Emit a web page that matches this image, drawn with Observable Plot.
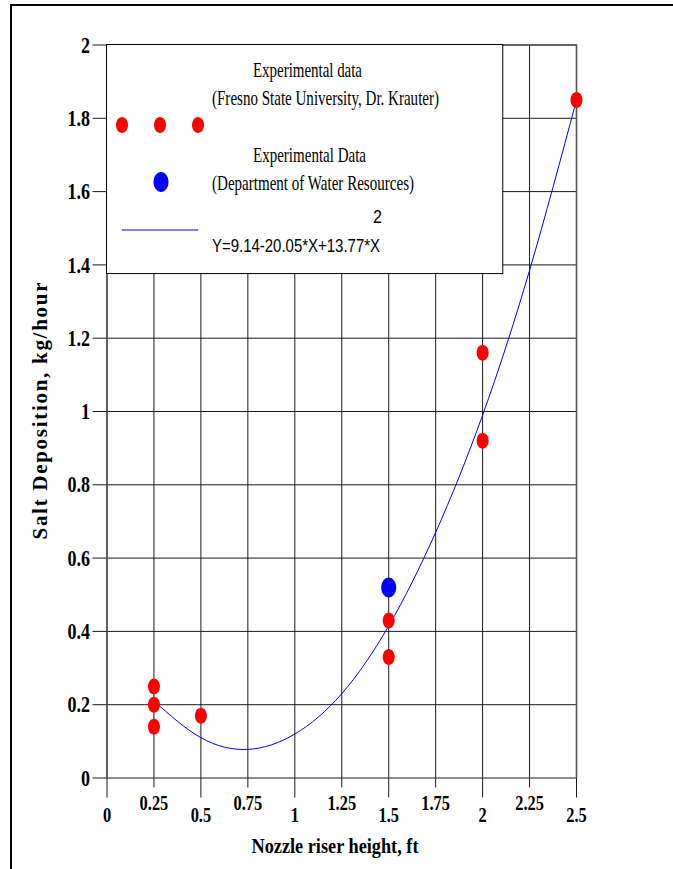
<!DOCTYPE html>
<html><head><meta charset="utf-8">
<script src="https://cdn.jsdelivr.net/npm/d3@7"></script>
<script src="https://cdn.jsdelivr.net/npm/@observablehq/plot@0.6"></script>
<style>
html,body{margin:0;padding:0;background:#fff;}
#chart{position:relative;width:673px;height:869px;overflow:hidden;background:#fff;}
#chart .frame{position:absolute;left:10px;top:4px;width:700px;height:900px;border-left:2.5px solid #000;border-top:2.5px solid #000;pointer-events:none;}
#chart svg{position:absolute;left:0;top:0;}
</style></head><body><div id="chart"><div class="frame"></div></div>
<script>
// Data
const fresnoX = [0.25, 0.25, 0.25, 0.5, 1.5, 1.5, 2, 2, 2.5];
const fresnoY = [0.25, 0.20, 0.14, 0.17, 0.43, 0.33, 1.16, 0.92, 1.85];
const dwrX = [1.5];
const dwrY = [0.52];
const fitX = [0.25, 0.5, 0.75, 1, 1.25, 1.5, 1.75, 2, 2.25, 2.5];
const fitY = [0.21, 0.11, 0.078, 0.12, 0.23, 0.415, 0.67, 0.99, 1.385, 1.85];
const xMajorTicks = [0, 0.5, 1, 1.5, 2, 2.5];
const xMajorLabels = ["0", "0.5", "1", "1.5", "2", "2.5"];
const xMinorTicks = [0.25, 0.75, 1.25, 1.75, 2.25];
const xMinorLabels = ["0.25", "0.75", "1.25", "1.75", "2.25"];
const yTicks = [0, 0.2, 0.4, 0.6, 0.8, 1, 1.2, 1.4, 1.6, 1.8, 2];
const yLabels = ["0", "0.2", "0.4", "0.6", "0.8", "1", "1.2", "1.4", "1.6", "1.8", "2"];
const xTitle = "Nozzle riser height, ft";
const yTitle = "Salt Deposition, kg/hour";
const legend1a = "Experimental data";
const legend1b = "(Fresno State University, Dr. Krauter)";
const legend2a = "Experimental Data";
const legend2b = "(Department of Water Resources)";
const legend3 = "Y=9.14-20.05*X+13.77*X";
const legend3sup = "2";

const fresno = fresnoX.map((x, i) => ({x, y: fresnoY[i]}));
const dwr = dwrX.map((x, i) => ({x, y: dwrY[i]}));
const fit = fitX.map((x, i) => ({x, y: fitY[i]}));

function ellipse(rx, ry) {
  const k = 0.5522847498;
  return {draw(ctx) {
    ctx.moveTo(rx, 0);
    ctx.bezierCurveTo(rx, k * ry, k * rx, ry, 0, ry);
    ctx.bezierCurveTo(-k * rx, ry, -rx, k * ry, -rx, 0);
    ctx.bezierCurveTo(-rx, -k * ry, -k * rx, -ry, 0, -ry);
    ctx.bezierCurveTo(k * rx, -ry, rx, -k * ry, rx, 0);
    ctx.closePath();
  }};
}
const serif = "'Liberation Serif', 'Times New Roman', serif";
const gridColor = "#1a1a1a";

const plot = Plot.plot({
  width: 673, height: 869,
  marginLeft: 106.5, marginRight: 97, marginTop: 44.5, marginBottom: 91.5,
  x: {domain: [0, 2.5]},
  y: {domain: [0, 2]},
  style: {background: "transparent", overflow: "visible"},
  marks: [
    Plot.gridX(xMajorTicks.concat(xMinorTicks), {stroke: gridColor, strokeOpacity: 1, strokeWidth: 1}),
    Plot.gridY(yTicks, {stroke: gridColor, strokeOpacity: 1, strokeWidth: 1}),
    Plot.ruleX([0, 2.5], {stroke: "#555", strokeWidth: 1.6}),
    Plot.ruleY([2], {stroke: "#555", strokeWidth: 1.4}),
    Plot.axisX({ticks: xMajorTicks, tickSize: 20, tickFormat: () => "", label: null, stroke: gridColor}),
    Plot.axisX({ticks: xMinorTicks, tickSize: 10, tickFormat: () => "", label: null, stroke: gridColor}),
    Plot.axisY({ticks: yTicks, tickSize: 14, tickFormat: () => "", label: null, stroke: gridColor}),
    Plot.text(xMajorTicks, {x: d => d, frameAnchor: "bottom", dy: 43.5, text: (d, i) => xMajorLabels[i],
      fontWeight: "bold", fontSize: 20, fontFamily: serif, fill: "#000"}),
    Plot.text(xMinorTicks, {x: d => d, frameAnchor: "bottom", dy: 32, text: (d, i) => xMinorLabels[i],
      fontWeight: "bold", fontSize: 20, fontFamily: serif, fill: "#000"}),
    Plot.text(yTicks, {y: d => d, frameAnchor: "left", dx: -17, textAnchor: "end", text: (d, i) => yLabels[i],
      fontWeight: "bold", fontSize: 24, fontFamily: serif, fill: "#000"}),
    Plot.line(fit, {x: "x", y: "y", curve: "natural", stroke: "#0000ff", strokeWidth: 1}),
    Plot.dot(fresno, {x: "x", y: "y", symbol: ellipse(6, 8), fill: "#ff0000", stroke: "none", r: 6}),
    Plot.dot(dwr, {x: "x", y: "y", symbol: ellipse(7.5, 10), fill: "#0000ff", stroke: "none", r: 8})
  ]
});
document.getElementById("chart").appendChild(plot);

const svg = d3.select(plot);
const xs = plot.scale("x"), ys = plot.scale("y");

// condense tick labels
svg.selectAll('g[aria-label="text"] text').each(function() {
  const w = this.getComputedTextLength();
  const fs = parseFloat(this.parentNode.getAttribute("font-size") || this.getAttribute("font-size") || 20);
  const f = fs > 21 ? 0.75 : 0.82;
  this.setAttribute("textLength", (w * f).toFixed(1));
  this.setAttribute("lengthAdjust", "spacingAndGlyphs");
});

// axis titles
svg.append("text").attr("x", 335).attr("y", 853).attr("text-anchor", "middle")
  .attr("font-family", serif).attr("font-weight", "bold").attr("font-size", 22)
  .attr("textLength", 167).attr("lengthAdjust", "spacingAndGlyphs").text(xTitle);
svg.append("text").attr("transform", "translate(47,411) rotate(-90)").attr("text-anchor", "middle")
  .attr("font-family", serif).attr("font-weight", "bold").attr("font-size", 21)
  .attr("textLength", 257).attr("lengthAdjust", "spacing").text(yTitle);

// legend
const bx0 = xs.apply(0), bx1 = xs.apply(2.11), by0 = ys.apply(2), by1 = ys.apply(1.375);
const lg = svg.append("g");
lg.append("rect").attr("x", bx0).attr("y", by0).attr("width", bx1 - bx0).attr("height", by1 - by0)
  .attr("fill", "#fff").attr("stroke", "#000").attr("stroke-width", 1);
function ltext(t, x, y, w, opts = {}) {
  return lg.append("text").attr("x", x).attr("y", y).attr("text-anchor", opts.anchor || "start")
    .attr("font-family", opts.family || serif).attr("font-size", opts.size || 21)
    .attr("textLength", w).attr("lengthAdjust", "spacingAndGlyphs").text(t);
}
ltext(legend1a, 253, 77, 109);
ltext(legend1b, 212, 105, 227);
ltext(legend2a, 253, 162, 113);
ltext(legend2b, 212, 190, 202);
ltext(legend3sup, 373, 223, 9, {family: "'Liberation Sans Narrow','Liberation Sans',Arial,sans-serif", size: 18});
ltext(legend3, 212, 252, 168, {family: "'Liberation Sans Narrow','Liberation Sans',Arial,sans-serif", size: 19});
const redSym = d3.symbol(ellipse(6, 8))();
const blueSym = d3.symbol(ellipse(7.5, 10))();
[122, 160, 198].forEach(x => lg.append("path").attr("d", redSym).attr("transform", `translate(${x},125)`).attr("fill", "#ff0000"));
lg.append("path").attr("d", blueSym).attr("transform", "translate(161,182)").attr("fill", "#0000ff");
lg.append("line").attr("x1", 122).attr("x2", 198).attr("y1", 230).attr("y2", 230).attr("stroke", "#0000ff").attr("stroke-width", 1);
</script></body></html>
